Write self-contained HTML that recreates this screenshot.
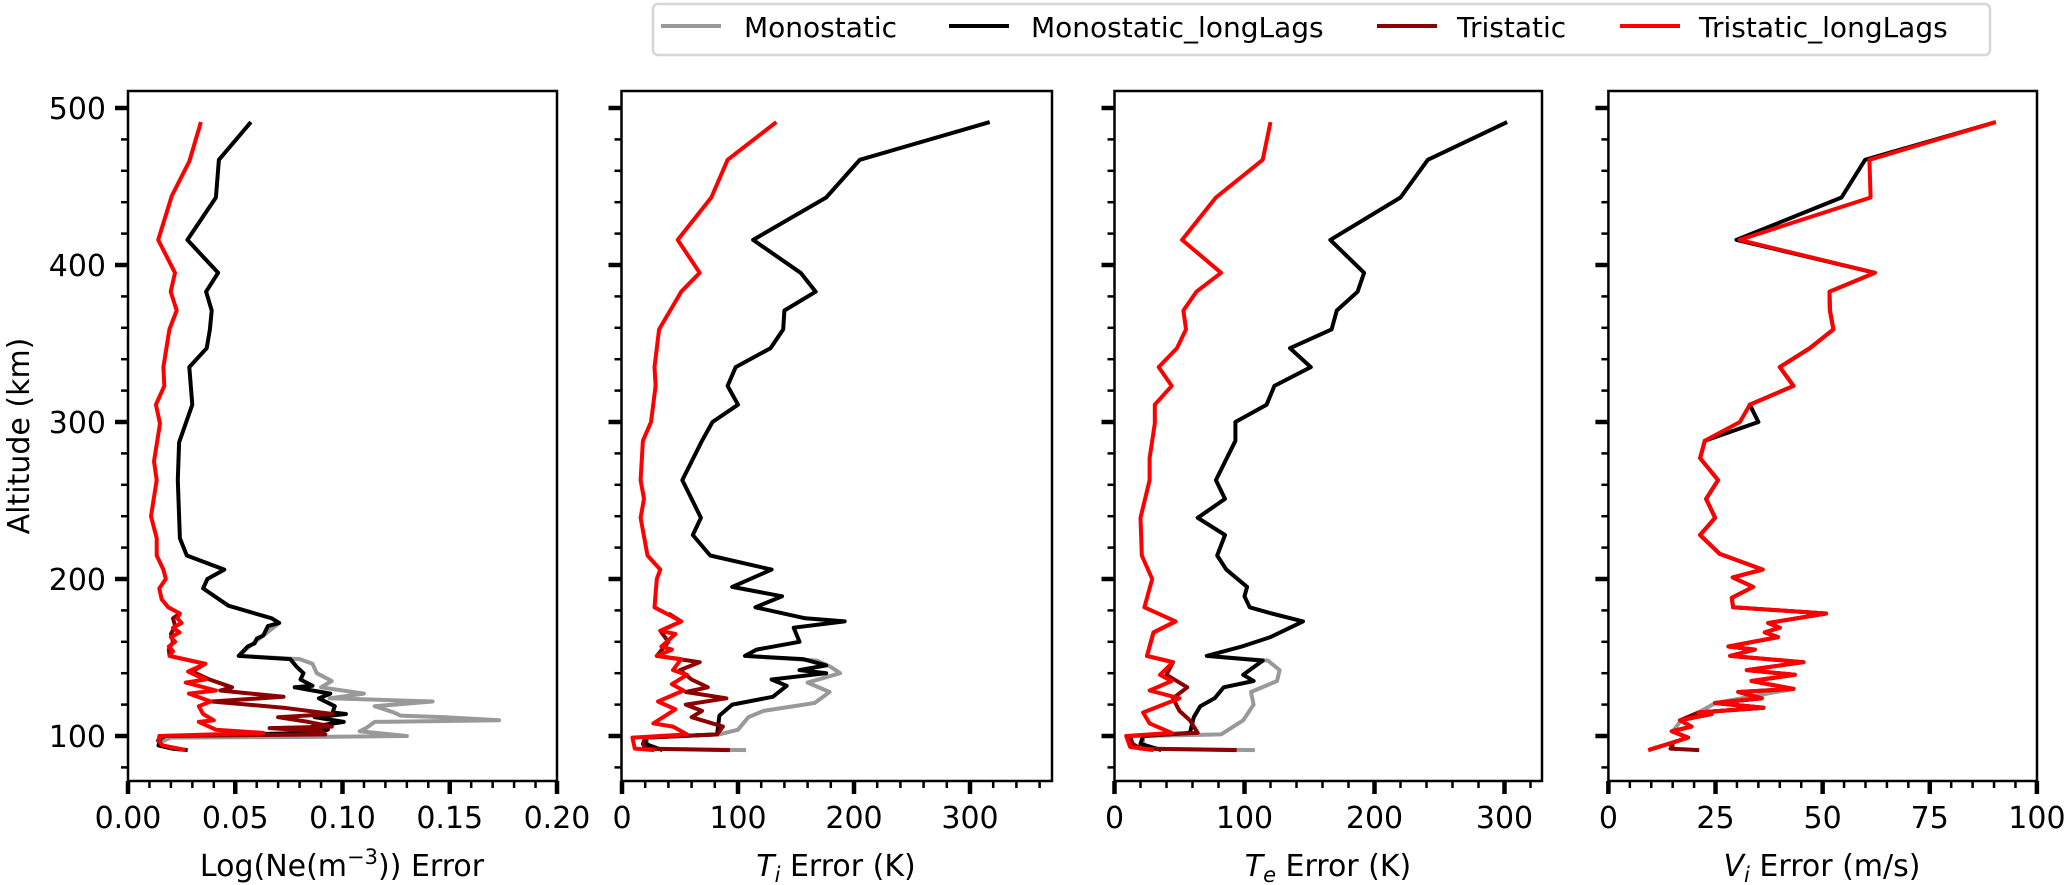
<!DOCTYPE html>
<html>
<head>
<meta charset="utf-8">
<style>
html,body{margin:0;padding:0;background:#fff;}
svg{display:block;font-family:"DejaVu Sans","Liberation Sans",sans-serif;}
</style>
</head>
<body>
<svg id="chart" width="2067" height="885" viewBox="0 0 2067 885" xmlns="http://www.w3.org/2000/svg">
  <rect x="0" y="0" width="2067" height="885" fill="#fff"/>
  <g id="plots"></g>
  <text transform="translate(29,436) rotate(-90)" text-anchor="middle" font-size="30">Altitude (km)</text>
  <text x="342" y="876" text-anchor="middle" font-size="30">Log(Ne(m<tspan dy="-12" font-size="21">−3</tspan><tspan dy="12">)) Error</tspan></text>
  <text x="836" y="876" text-anchor="middle" font-size="30"><tspan font-style="italic">T</tspan><tspan font-style="italic" font-size="21" dy="6">i</tspan><tspan dy="-6"> Error (K)</tspan></text>
  <text x="1328" y="876" text-anchor="middle" font-size="30"><tspan font-style="italic">T</tspan><tspan font-style="italic" font-size="21" dy="6">e</tspan><tspan dy="-6"> Error (K)</tspan></text>
  <text x="1822" y="876" text-anchor="middle" font-size="30"><tspan font-style="italic">V</tspan><tspan font-style="italic" font-size="21" dy="6">i</tspan><tspan dy="-6"> Error (m/s)</tspan></text>
  <g>
    <rect x="653" y="4" width="1337" height="51" rx="5" fill="#fff" stroke="#d6d6d6" stroke-width="2.5"/>
    <g>
      <line x1="661" y1="26" x2="721" y2="26" stroke="#999999" stroke-width="4"/>
      <text x="744" y="37" font-size="28">Monostatic</text>
    </g>
    <g>
      <line x1="949" y1="26" x2="1009" y2="26" stroke="#000" stroke-width="4"/>
      <text x="1031" y="37" font-size="28">Monostatic_longLags</text>
    </g>
    <g>
      <line x1="1377" y1="26" x2="1437" y2="26" stroke="#8b0000" stroke-width="4"/>
      <text x="1457" y="37" font-size="28">Tristatic</text>
    </g>
    <g>
      <line x1="1620" y1="26" x2="1680" y2="26" stroke="#ff0000" stroke-width="4"/>
      <text x="1699" y="37" font-size="28">Tristatic_longLags</text>
    </g>
  </g>
</svg>
<script>
// ---- Panel 1: Log(Ne) error ----
var neMonoAlt = [172,164,157,151,149,146,140,135,131,127,124,122,119,115,113,112,110,109,105,103,100,99.5,99,96,94,92,91];
var neMonoVal = [.0705,.0631,.0565,.052,.08,.086,.088,.095,.09,.110,.094,.142,.115,.124,.127,.148,.173,.115,.111,.108,.13,.096,.02,.015,.015,.021,.028];
var neLongAlt = [491,467,443,416,395,383,371,359,347,335,311,287,263,226,215,206,200,194,183,175,172,170,164,162,159,157,151,149,144,140,136,132,131,127,124,119,115,114,112,109,106,104,102,100,98.5,94,92,91];
var neLongVal = [.0573,.0424,.041,.0277,.042,.0364,.039,.0382,.0367,.0286,.030,.0238,.0232,.0242,.0274,.0449,.037,.035,.0468,.067,.0705,.0652,.0631,.060,.059,.0558,.0516,.0756,.0787,.0818,.0804,.086,.0777,.0943,.089,.0964,.0954,.1016,.087,.1006,.086,.0932,.086,.0173,.0152,.0142,.0205,.0277];
var neTriAlt = [178,175,170,165,160,155,151,146,141,136,131,129,125,122,118,114,112,109,106,105,103,101,100,97,94,91];
var neTriVal = [.0242,.021,.022,.020,.021,.019,.0194,.036,.030,.038,.0485,.043,.0725,.039,.0724,.0954,.07,.084,.095,.066,.09,.092,.015,.014,.016,.027];
var neTriLongAlt = [491,466,444,416,395,383,371,359,335,323,311,299,275,263,240,226,215,206,200,194,187,182,178,175,172,169,166,163,160,157,154,151,146,141,136,134,129,127,122,119,114,110,109,104,102,100,97,94,91];
var neTriLongVal = [.034,.0286,.0204,.0141,.0219,.0199,.0227,.0193,.0165,.0169,.013,.0149,.0121,.0134,.0107,.0134,.0134,.0165,.0176,.0146,.0157,.0188,.0242,.023,.025,.021,.024,.020,.022,.019,.021,.0194,.036,.028,.036,.0269,.041,.0284,.0386,.033,.035,.04,.033,.041,.063,.0146,.0144,.016,.0267];

// ---- Panel 2: Ti error ----
var tiMonoAlt = [155,151,148,144,140,134,128,121,116,112,104,101,99,95,92,91];
var tiMonoVal = [116,106,168,180,188,160,179,166,122,109,100,84,21,22,20,107];
var tiLongAlt = [491,467,443,416,395,383,371,359,347,335,323,311,300,288,263,251,239,228,215,206,195,189,182,175,173,169,160,155,151,149,145,142,140,136,132,125,120,113,101,99,95,91];
var tiLongVal = [317,205,176,113,154,167,140,139,128,98,91,100,78,69,52,60,68,61,76,129,95,138,115,158,192,148,153,116,106,156,176,153,176,129,142,130,95,84,82,21,20,35];
var tiTriAlt = [178,173,167,160,151,147,142,136,131,128,124,120,116,112,106,101,99,95,92,91];
var tiTriVal = [40,51,33,40,30,67,50,60,74,55,90,55,69,60,87,82,20,18,20,93];
var tiTriLongAlt = [491,467,443,416,395,383,359,335,323,300,288,263,251,239,215,206,200,182,173,167,165,157,155,151,149,142,139,133,129,122,117,108,106,101,99,92,91];
var tiTriLongVal = [133,91,77,48,67,51,32,28,29,25,18,16,19,16,22,33,30,28,51,33,46,34,43,30,51,44,56,43,53,31,46,27,44,56,9,11,28];

// ---- Panel 3: Te error ----
var teMonoAlt = [157,151,148,142,135,128,120,110,101,100,95,92,91];
var teMonoVal = [98,71,118,127,125,105,107,99,82,22,22,25,108];
var teLongAlt = [491,467,443,416,395,383,371,359,347,335,323,311,300,288,263,251,239,228,215,206,195,189,182,178,173,163,157,151,148,139,135,131,124,119,112,102,100,95,91];
var teLongVal = [302,241,220,166,192,187,171,167,135,151,123,117,93,93,78,85,64,85,79,86,102,100,104,121,145,120,98,71,114,99,107,84,77,66,61,58,22,20,36];
var teTriAlt = [173,166,151,147,139,131,124,116,110,102,100,95,92,91];
var teTriVal = [47,30,25,45,40,56,45,50,58,64,12,14,20,94];
var teTriLongAlt = [491,467,443,416,395,383,371,359,347,335,323,311,299,277,263,239,215,200,182,173,166,151,147,139,135,129,124,115,108,102,100,93,91];
var teTriLongVal = [120,114,78,52,82,63,53,55,48,34,44,31,31,27,27,20,21,29,23,47,30,25,45,35,44,27,50,22,27,44,9,12,30];

// ---- Panel 4: Vi error ----
var viMonoAlt = [130,121,115,110,103,99,95,91];
var viMonoVal = [43.2,25,21,17,15,18.6,14,9.3];
var viLongAlt = [491,467,443,416,395,383,371,359,347,335,323,311,300,288,277,263,251,239,228,216,206,201,195,188,182,178,172,169,166,163,157,155,151,147,142,139,135,130,128,124,121,118,115,114,110,106,103,99,95,91];
var viLongVal = [90.4,59.9,54.4,29.9,62.2,51.6,51.7,52.5,47,40,43.2,33,35,22.5,21.4,25.6,22.8,24.9,21.4,26,36,29,33.8,28.8,29.1,50.8,37.3,40,36.5,39.6,28,34.2,28.4,45.5,32.3,43.5,33.4,43.2,30.3,35.8,24.9,36.2,21,24.1,16.7,19.4,14.8,18.6,14,9.3];
var viTriAlt = [124,121,118,115,110,106,103,99,95,94,92,91];
var viTriVal = [35.8,24.9,36.2,21,16.7,19.4,14.8,18.6,14,15,14.5,21.2];
var viTriLongAlt = [491,467,443,416,395,383,371,359,347,335,323,311,300,288,277,263,251,239,228,216,206,201,195,188,182,178,172,169,166,163,157,155,151,147,142,139,135,130,128,124,121,118,115,114,110,106,103,99,95,91];
var viTriLongVal = [90.4,60.9,61.2,30.6,62.2,51.6,51.7,52.5,47,40,43.2,33,30.7,22.5,21.4,25.6,22.8,24.9,21.4,26,36,29,33.8,28.8,29.1,50.8,37.3,40,36.5,39.6,28,34.2,28.4,45.5,32.3,43.5,33.4,43.2,30.3,35.8,24.9,36.2,21,24.1,16.7,19.4,14.8,18.6,14,9.3];

// ---- Ticks ----
var altTicks = [100,200,300,400,500];
var altTickLabels = ["100","200","300","400","500"];
var neTicks = [0,0.05,0.10,0.15,0.20];
var neTickLabels = ["0.00","0.05","0.10","0.15","0.20"];
var tiTicks = [0,100,200,300];
var tiTickLabels = ["0","100","200","300"];
var teTicks = [0,100,200,300];
var teTickLabels = ["0","100","200","300"];
var viTicks = [0,25,50,75,100];
var viTickLabels = ["0","25","50","75","100"];

var NS = "http://www.w3.org/2000/svg";
var plots = document.getElementById('plots');
var Y0 = 91, Y1 = 781;
function yScale(alt){ return 736 - (alt - 100) * 1.57; }

var panels = [
  {key:'ne', left:128, right:557, x0:128, pxPer:2145, ticks:neTicks, labels:neTickLabels, minorStep:0.01, maxV:0.2, showY:true,
   series:[[neMonoAlt,neMonoVal],[neLongAlt,neLongVal],[neTriAlt,neTriVal],[neTriLongAlt,neTriLongVal]]},
  {key:'ti', left:621.5, right:1052, x0:622, pxPer:1.16, ticks:tiTicks, labels:tiTickLabels, minorStep:20, maxV:370, showY:false,
   series:[[tiMonoAlt,tiMonoVal],[tiLongAlt,tiLongVal],[tiTriAlt,tiTriVal],[tiTriLongAlt,tiTriLongVal]]},
  {key:'te', left:1114.5, right:1542, x0:1114.5, pxPer:1.3, ticks:teTicks, labels:teTickLabels, minorStep:20, maxV:329, showY:false,
   series:[[teMonoAlt,teMonoVal],[teLongAlt,teLongVal],[teTriAlt,teTriVal],[teTriLongAlt,teTriLongVal]]},
  {key:'vi', left:1608.4, right:2037, x0:1608.4, pxPer:4.285, ticks:viTicks, labels:viTickLabels, minorStep:5, maxV:100, showY:false,
   series:[[viMonoAlt,viMonoVal],[viLongAlt,viLongVal],[viTriAlt,viTriVal],[viTriLongAlt,viTriLongVal]]}
];
var seriesColors = ['#999999','#000000','#8b0000','#ff0000'];
var seriesNames = ['monostatic','monostatic-longlags','tristatic','tristatic-longlags'];

panels.forEach(function(p){
  var g = document.createElementNS(NS,'g');
  
  
  plots.appendChild(g);
  function xs(v){ return p.x0 + v * p.pxPer; }

  p.series.forEach(function(s, i){
    var pts = [];
    for (var k = 0; k < s[0].length; k++) pts.push(xs(s[1][k]).toFixed(1) + ',' + yScale(s[0][k]).toFixed(1));
    var pl = document.createElementNS(NS,'polyline');
    
    
    pl.setAttribute('points', pts.join(' '));
    pl.setAttribute('fill', 'none');
    pl.setAttribute('stroke', seriesColors[i]);
    pl.setAttribute('stroke-width', '4');
    pl.setAttribute('stroke-linejoin', 'round');
    g.appendChild(pl);
  });

  var fr = document.createElementNS(NS,'rect');
  
  
  fr.setAttribute('x', p.left); fr.setAttribute('y', Y0);
  fr.setAttribute('width', p.right - p.left); fr.setAttribute('height', Y1 - Y0);
  fr.setAttribute('fill', 'none'); fr.setAttribute('stroke', '#000'); fr.setAttribute('stroke-width', '2.5');
  g.appendChild(fr);

  for (var v = 0; v <= p.maxV + 1e-9; v += p.minorStep) {
    var xm = xs(v);
    var mt = document.createElementNS(NS,'line');
    
    
    mt.setAttribute('x1', xm); mt.setAttribute('x2', xm);
    mt.setAttribute('y1', Y1); mt.setAttribute('y2', Y1 + 7);
    mt.setAttribute('stroke', '#000'); mt.setAttribute('stroke-width', '2.5');
    g.appendChild(mt);
  }
  p.ticks.forEach(function(t, i){
    var xm = xs(t);
    var tk = document.createElementNS(NS,'line');
    
    
    tk.setAttribute('x1', xm); tk.setAttribute('x2', xm);
    tk.setAttribute('y1', Y1); tk.setAttribute('y2', Y1 + 13);
    tk.setAttribute('stroke', '#000'); tk.setAttribute('stroke-width', '4.5');
    g.appendChild(tk);
    var tl = document.createElementNS(NS,'text');
    
    
    tl.setAttribute('x', xm); tl.setAttribute('y', 828);
    tl.setAttribute('text-anchor', 'middle'); tl.setAttribute('font-size', '30');
    tl.textContent = p.labels[i];
    g.appendChild(tl);
  });

  for (var a = 80; a <= 500; a += 20) {
    var ym = yScale(a);
    var ymt = document.createElementNS(NS,'line');
    
    
    ymt.setAttribute('x1', p.left - 7); ymt.setAttribute('x2', p.left);
    ymt.setAttribute('y1', ym); ymt.setAttribute('y2', ym);
    ymt.setAttribute('stroke', '#000'); ymt.setAttribute('stroke-width', '2.5');
    g.appendChild(ymt);
  }
  altTicks.forEach(function(a, i){
    var ym = yScale(a);
    var yt = document.createElementNS(NS,'line');
    
    
    yt.setAttribute('x1', p.left - 13); yt.setAttribute('x2', p.left);
    yt.setAttribute('y1', ym); yt.setAttribute('y2', ym);
    yt.setAttribute('stroke', '#000'); yt.setAttribute('stroke-width', '4.5');
    g.appendChild(yt);
    if (p.showY) {
      var yl = document.createElementNS(NS,'text');
      
      
      yl.setAttribute('x', p.left - 22); yl.setAttribute('y', ym + 11);
      yl.setAttribute('text-anchor', 'end'); yl.setAttribute('font-size', '30');
      yl.textContent = altTickLabels[i];
      g.appendChild(yl);
    }
  });
});
</script>
</body>
</html>
